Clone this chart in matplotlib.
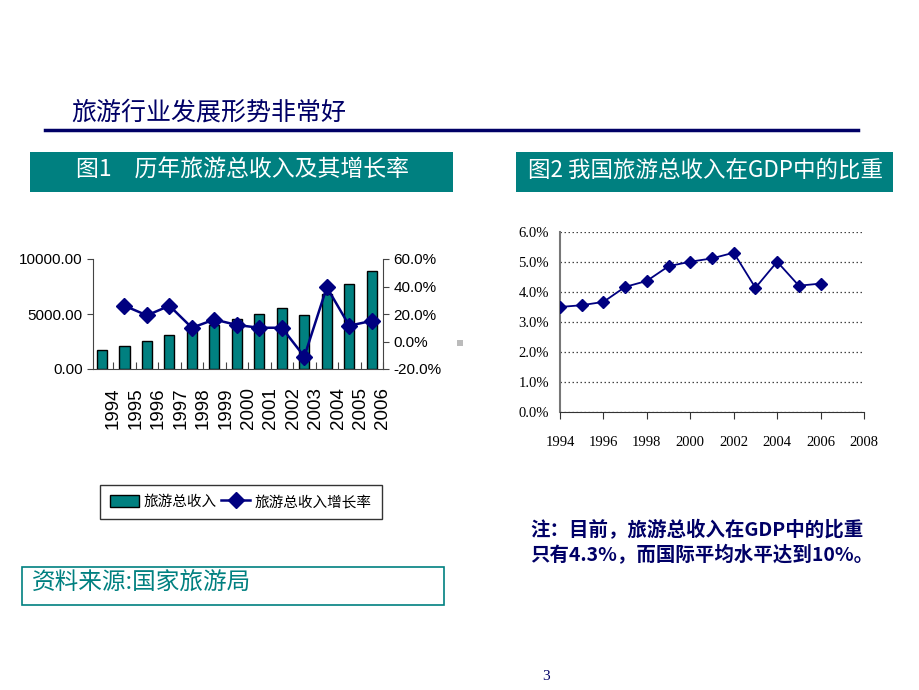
import matplotlib
matplotlib.use("Agg")
import matplotlib.pyplot as plt
from matplotlib.patches import Rectangle
from matplotlib.lines import Line2D
from matplotlib.ticker import FuncFormatter, FixedLocator

plt.rcParams['font.family'] = ['Noto Sans CJK SC', 'DejaVu Sans']

# ---- data ----
years1 = ['1994', '1995', '1996', '1997', '1998', '1999', '2000',
          '2001', '2002', '2003', '2004', '2005', '2006']
revenue = [1750, 2098, 2570, 3112, 3439, 4002, 4519, 4995, 5566, 4882, 6840, 7686, 8935]
growth = [None, 26.0, 19.0, 26.0, 10.0, 16.0, 12.0, 10.0, 10.0, -11.0, 39.5, 11.5, 15.0]

years2 = [1994, 1995, 1996, 1997, 1998, 1999, 2000, 2001, 2002, 2003, 2004, 2005, 2006]
gdp_share = [3.50, 3.56, 3.67, 4.17, 4.37, 4.86, 5.01, 5.12, 5.31, 4.14, 5.01, 4.21, 4.28]

TEAL = '#008080'
NAVY = '#000080'

W, H = 920, 690
fig = plt.figure(figsize=(9.2, 6.9), dpi=100)
fig.patch.set_facecolor('white')

def fx(x):
    return x / W

def fy(y):
    return 1 - y / H

# ---- page title ----
fig.text(fx(71), fy(113), '旅游行业发展形势非常好', fontsize=18, color='#000066',
         va='center', ha='left')
fig.add_artist(Line2D([fx(45), fx(858)], [fy(130), fy(130)], color='#000066', lw=2.5))

# ---- header boxes ----
fig.add_artist(Rectangle((fx(30), fy(192)), fx(453) - fx(30), fy(152) - fy(192),
                         facecolor=TEAL, edgecolor='none'))
fig.text(fx(76), fy(170), '图1　历年旅游总收入及其增长率', fontsize=16.5, color='white',
         va='center', ha='left')
fig.add_artist(Rectangle((fx(516), fy(192)), fx(893) - fx(516), fy(152) - fy(192),
                         facecolor=TEAL, edgecolor='none'))
fig.text(fx(528), fy(170), '图2 我国旅游总收入在GDP中的比重', fontsize=16.2, color='white',
         va='center', ha='left')

# ---- chart 1 ----
numfont = ['Liberation Sans Narrow', 'Liberation Sans', 'DejaVu Sans']
ax1 = fig.add_axes([fx(93), fy(369), fx(383) - fx(93), fy(259) - fy(369)])
x1 = list(range(len(years1)))
ax1.bar(x1, revenue, width=0.45, color=TEAL, edgecolor='black', linewidth=1.0, zorder=2)
ax1.set_xlim(-0.4, 12.5)
ax1.set_ylim(0, 10000)
ax1.set_yticks([0, 5000, 10000])
ax1.yaxis.set_major_formatter(FuncFormatter(lambda v, p: f'{v:.2f}'))
ax1.xaxis.set_major_locator(FixedLocator([i + 0.5 for i in x1]))
ax1.set_xticklabels(years1, rotation=90, family=numfont, fontsize=13.5)
ax1.tick_params(axis='x', direction='in', length=5, color='#444444', pad=13)
ax1.tick_params(axis='y', direction='out', length=4, color='#444444', labelsize=11)
for lab in ax1.get_yticklabels():
    lab.set_family(numfont)
ax1.spines['top'].set_visible(False)
ax1.spines['right'].set_visible(False)
for s in ('left', 'bottom'):
    ax1.spines[s].set_color('#444444')

ax1r = ax1.twinx()
gx = [x1[i] for i in range(len(growth)) if growth[i] is not None]
gy = [g for g in growth if g is not None]
ax1r.plot(gx, gy, color=NAVY, lw=1.8, marker='D', markersize=8, zorder=3)
ax1r.set_ylim(-20, 60)
ax1r.set_yticks([-20, 0, 20, 40, 60])
ax1r.yaxis.set_major_formatter(FuncFormatter(lambda v, p: f'{v:.1f}%'))
ax1r.tick_params(axis='y', direction='out', length=4, color='#444444', labelsize=11)
for lab in ax1r.get_yticklabels():
    lab.set_family(numfont)
ax1r.spines['top'].set_visible(False)
ax1r.spines['left'].set_visible(False)
ax1r.spines['bottom'].set_visible(False)
ax1r.spines['right'].set_color('#444444')

handles = [Rectangle((0, 0), 1, 1, facecolor=TEAL, edgecolor='black'),
           Line2D([], [], color=NAVY, lw=1.8, marker='D', markersize=8)]
leg = fig.legend(handles, ['旅游总收入', '旅游总收入增长率'], loc='center',
                 bbox_to_anchor=(fx(241), fy(502)), ncol=2, frameon=True, fancybox=False,
                 edgecolor='black', fontsize=10.5, handlelength=2.0, columnspacing=0.3,
                 handletextpad=0.3, borderpad=0.7, handleheight=0.9, borderaxespad=0.0)
leg.get_frame().set_linewidth(1.0)

# small gray dot
fig.add_artist(Rectangle((fx(457), fy(346)), fx(6), 6 / H, facecolor='#bbbbbb', edgecolor='none'))

# ---- chart 2 ----
serif = ['Liberation Serif', 'DejaVu Serif']
ax2 = fig.add_axes([fx(560), fy(412), fx(864) - fx(560), fy(232) - fy(412)])
ax2.plot(years2, gdp_share, color=NAVY, lw=1.3, marker='D', markersize=6, zorder=3)
ax2.set_xlim(1994, 2008)
ax2.set_ylim(0, 6)
ax2.set_xticks(range(1994, 2009, 2))
ax2.set_yticks([0, 1, 2, 3, 4, 5, 6])
ax2.yaxis.set_major_formatter(FuncFormatter(lambda v, p: f'{v:.1f}%'))
ax2.tick_params(axis='x', direction='out', length=5, color='#333333', labelsize=10.5, pad=12)
ax2.tick_params(axis='y', length=0, labelsize=10.5, pad=8)
for lab in ax2.get_xticklabels() + ax2.get_yticklabels():
    lab.set_family(serif)
ax2.grid(axis='y', linestyle=(0, (1.2, 2)), color='#444444', lw=0.9)
ax2.spines['top'].set_visible(False)
ax2.spines['right'].set_visible(False)
ax2.spines['left'].set_color('#777777')
ax2.spines['left'].set_linewidth(1.5)
ax2.spines['bottom'].set_color('#333333')

# ---- notes ----
fig.text(fx(530), fy(530), '注：目前，旅游总收入在GDP中的比重', fontsize=14, color='#000066',
         va='center', ha='left', weight='bold')
fig.text(fx(530), fy(555), '只有4.3%，而国际平均水平达到10%。', fontsize=14, color='#000066',
         va='center', ha='left', weight='bold')

fig.add_artist(Rectangle((fx(22), fy(605)), fx(444) - fx(22), fy(567) - fy(605),
                         facecolor='none', edgecolor=TEAL, lw=1.2))
fig.text(fx(32), fy(583), '资料来源:国家旅游局', fontsize=17, color=TEAL, va='center', ha='left')

fig.text(fx(546), fy(676), '3', fontsize=11, color='#000066', va='center', ha='center',
         family=serif)

fig.savefig('out.png', dpi=100)
